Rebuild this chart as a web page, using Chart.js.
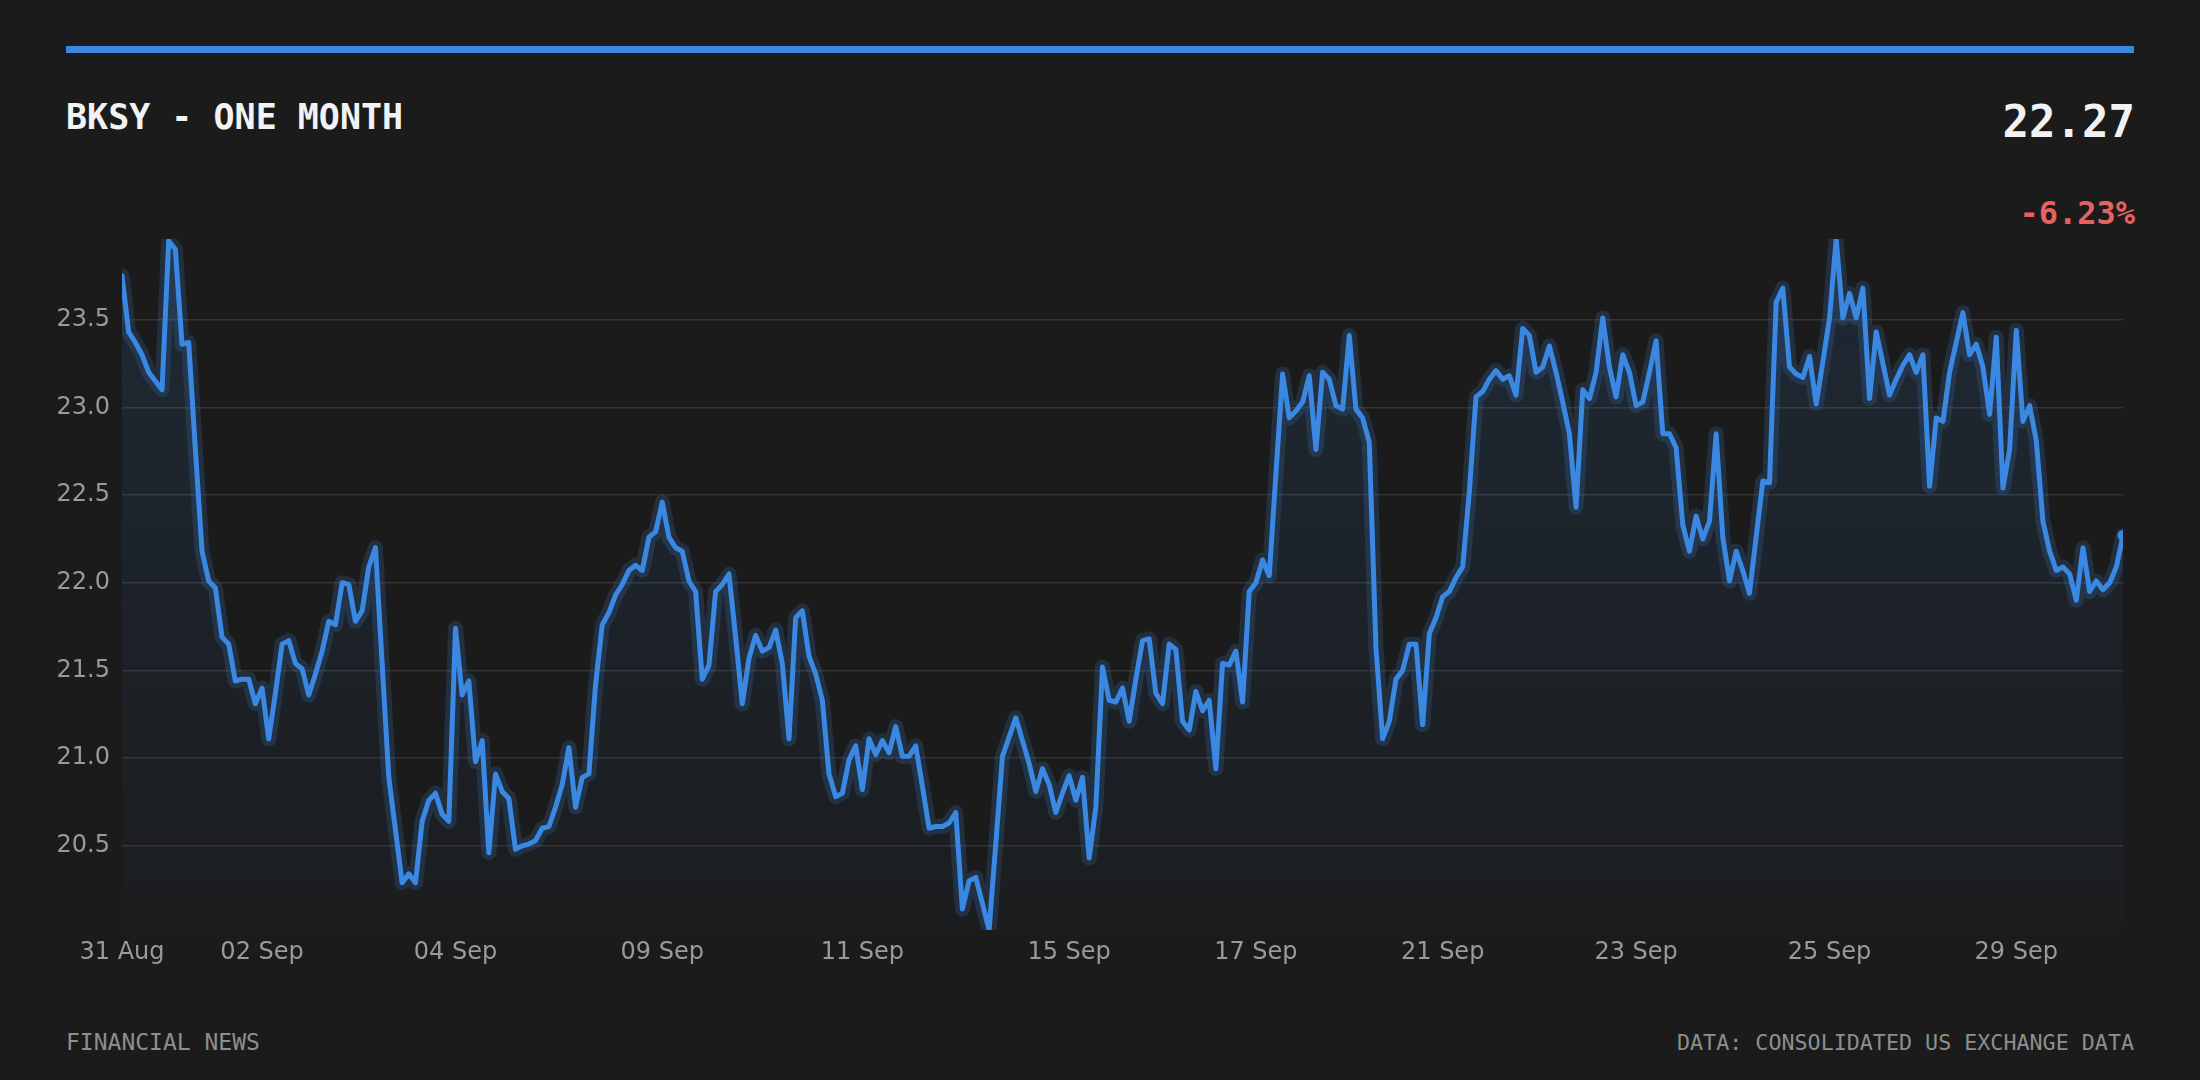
<!DOCTYPE html>
<html>
<head>
<meta charset="utf-8">
<script src="https://cdn.jsdelivr.net/npm/chart.js@4.4.1/dist/chart.umd.min.js"></script>
<style>
    html, body { margin: 0; padding: 0; background: #1b1b1b; }
    body { width: 2200px; height: 1080px; position: relative; overflow: hidden; }
    .mono { font-family: "DejaVu Sans Mono", monospace; position: absolute; line-height: 1; white-space: nowrap; }
    #barra { position: absolute; left: 66px; top: 46px; width: 2068px; height: 7px; background: #3b88e3; }
    #titulo { left: 66px; top: 100px; font-size: 35px; font-weight: bold; color: #f2f2f2; }
    #preco { right: 65px; top: 100px; font-size: 44px; font-weight: bold; color: #f2f2f2; }
    #variacao { right: 65px; top: 197px; font-size: 32px; font-weight: bold; color: #e5625f; }
    #rodapeEsq { left: 66px; top: 1031px; font-size: 23px; color: #8e8e8e; }
    #rodapeDir { right: 66px; top: 1032px; font-size: 21.7px; color: #8e8e8e; }
    #graficoBox { position: absolute; left: 0; top: 0; width: 2200px; height: 1080px; }
</style>
</head>
<body>
<div id="barra"></div>
<div class="mono" id="titulo">BKSY - ONE MONTH</div>
<div class="mono" id="preco">22.27</div>
<div class="mono" id="variacao">-6.23%</div>
<div class="mono" id="rodapeEsq">FINANCIAL NEWS</div>
<div class="mono" id="rodapeDir">DATA: CONSOLIDATED US EXCHANGE DATA</div>
<div id="graficoBox"><canvas id="grafico"></canvas></div>

<script>
// precos (um ponto por intervalo)
const precos = [
    23.75, 23.43, 23.37, 23.30, 23.20, 23.15, 23.10, 23.95, 23.90, 23.36,
    23.37, 22.76, 22.18, 22.01, 21.97, 21.69, 21.65, 21.44, 21.45, 21.45,
    21.31, 21.40, 21.11, 21.37, 21.65, 21.67, 21.54, 21.51, 21.36, 21.48,
    21.61, 21.78, 21.76, 22.00, 21.99, 21.78, 21.84, 22.09, 22.20,
    21.54, 20.89, 20.59, 20.29, 20.34, 20.29, 20.64, 20.76, 20.80, 20.68,
    20.64, 21.74, 21.36, 21.44, 20.98, 21.10, 20.46, 20.91, 20.81, 20.77,
    20.48, 20.50, 20.51, 20.53, 20.60, 20.61, 20.72, 20.85, 21.06, 20.72,
    20.89, 20.91, 21.42, 21.76, 21.83, 21.93, 21.99, 22.07, 22.10, 22.07,
    22.26, 22.29, 22.46, 22.26, 22.20, 22.18, 22.01, 21.95, 21.45, 21.53,
    21.95, 21.99, 22.05, 21.69, 21.31, 21.57, 21.70, 21.61, 21.63, 21.73,
    21.54, 21.11, 21.80, 21.84, 21.58, 21.48, 21.33, 20.91, 20.78, 20.80,
    20.99, 21.07, 20.82, 21.11, 21.02, 21.10, 21.03, 21.18,
    21.01, 21.01, 21.07, 20.84, 20.60, 20.61, 20.61, 20.63, 20.69, 20.14,
    20.30, 20.32, 20.17, 20.02, 20.51, 21.01, 21.12, 21.23, 21.10, 20.97,
    20.81, 20.94, 20.85, 20.69, 20.80, 20.90, 20.76, 20.89, 20.43, 20.72,
    21.52, 21.33, 21.32, 21.40, 21.21, 21.45, 21.67, 21.68, 21.37,
    21.31, 21.65, 21.62, 21.21, 21.16, 21.38, 21.27, 21.33, 20.94, 21.54,
    21.53, 21.61, 21.32, 21.95, 22.00, 22.13, 22.04, 22.62, 23.19, 22.94,
    22.98, 23.03, 23.18, 22.76, 23.20, 23.16, 23.01, 22.99, 23.41, 22.99,
    22.94, 22.80, 21.63, 21.11, 21.21, 21.45, 21.50, 21.65, 21.65, 21.19,
    21.71, 21.80, 21.92, 21.95, 22.03, 22.09, 22.52, 23.06, 23.09, 23.16,
    23.21, 23.16, 23.18, 23.07, 23.45, 23.41, 23.20, 23.23, 23.35, 23.20,
    23.03, 22.85, 22.43, 23.10, 23.05, 23.20, 23.51, 23.23, 23.06, 23.30,
    23.20, 23.01, 23.03, 23.20, 23.38, 22.85, 22.85, 22.77, 22.33,
    22.18, 22.38, 22.25, 22.35, 22.85, 22.26, 22.01, 22.18, 22.07, 21.94,
    22.26, 22.58, 22.57, 23.60, 23.68, 23.23, 23.19, 23.17, 23.29, 23.02,
    23.26, 23.51, 23.96, 23.51, 23.65, 23.51, 23.68, 23.05, 23.43, 23.25,
    23.07, 23.16, 23.24, 23.30, 23.20, 23.30, 22.55, 22.94, 22.92,
    23.20, 23.37, 23.54, 23.30, 23.36, 23.23, 22.96, 23.40, 22.54, 22.76,
    23.44, 22.92, 23.01, 22.81, 22.35, 22.18, 22.07, 22.09, 22.05, 21.90,
    22.20, 21.95, 22.01, 21.96, 22.00, 22.09, 22.27
];

// posicoes (indice do ponto) e textos dos rotulos do eixo X
const xTickIndices = [0, 21, 50, 81, 111, 142, 170, 198, 227, 256, 284];
const xTickLabels = ['31 Aug', '02 Sep', '04 Sep', '09 Sep', '11 Sep', '15 Sep', '17 Sep', '21 Sep', '23 Sep', '25 Sep', '29 Sep'];

// linhas de grade do eixo Y
const yTickValues = [20.5, 21.0, 21.5, 22.0, 22.5, 23.0, 23.5];

const azul = '#3b88e3';
const pontos = precos.map((v, i) => ({ x: i, y: v }));
const ultimo = precos.length - 1;

const ctx = document.getElementById('grafico').getContext('2d');

new Chart(ctx, {
    type: 'line',
    data: {
        datasets: [
            {
                // linha principal
                data: pontos,
                borderColor: azul,
                borderWidth: 5,
                tension: 0,
                borderJoinStyle: 'round',
                borderCapStyle: 'round',
                pointRadius: c => c.dataIndex === ultimo ? 5.5 : 0,
                pointHoverRadius: 0,
                pointBackgroundColor: azul,
                pointBorderWidth: 0,
                fill: 'start',
                backgroundColor: c => {
                    const area = c.chart.chartArea;
                    if (!area) return 'rgba(59,136,227,0.08)';
                    const g = c.chart.ctx.createLinearGradient(0, area.top, 0, area.bottom);
                    g.addColorStop(0, 'rgba(59,136,227,0.13)');
                    g.addColorStop(1, 'rgba(59,136,227,0.02)');
                    return g;
                },
                clip: 0,
                order: 1
            },
            {
                // brilho por baixo da linha
                data: pontos,
                borderColor: 'rgba(59,136,227,0.18)',
                borderWidth: 15,
                tension: 0,
                borderJoinStyle: 'round',
                borderCapStyle: 'round',
                pointRadius: 0,
                pointHoverRadius: 0,
                fill: false,
                clip: 0,
                order: 2
            }
        ]
    },
    options: {
        responsive: true,
        maintainAspectRatio: false,
        animation: false,
        events: [],
        layout: {
            padding: { left: 0, right: 77, top: 239, bottom: 90 }
        },
        scales: {
            x: {
                type: 'linear',
                min: 0,
                max: ultimo,
                grid: { display: false, drawTicks: false },
                border: { display: false },
                afterBuildTicks: scale => {
                    scale.ticks = xTickIndices.map(v => ({ value: v }));
                },
                afterFit: scale => { scale.height = 60; },
                ticks: {
                    autoSkip: false,
                    maxRotation: 0,
                    padding: 8,
                    color: '#9a9a9a',
                    font: { family: 'DejaVu Sans', size: 24 },
                    callback: v => xTickLabels[xTickIndices.indexOf(v)]
                }
            },
            y: {
                min: Math.min(...precos),
                max: Math.max(...precos),
                grid: { color: '#333333', lineWidth: 1.5, drawTicks: false },
                border: { display: false },
                afterBuildTicks: scale => {
                    scale.ticks = yTickValues.map(v => ({ value: v }));
                },
                afterFit: scale => { scale.width = 122; },
                ticks: {
                    padding: 12,
                    color: '#9a9a9a',
                    font: { family: 'DejaVu Sans', size: 24 },
                    callback: v => v.toFixed(1)
                }
            }
        },
        plugins: {
            legend: { display: false },
            tooltip: { enabled: false }
        }
    }
});
</script>
</body>
</html>
